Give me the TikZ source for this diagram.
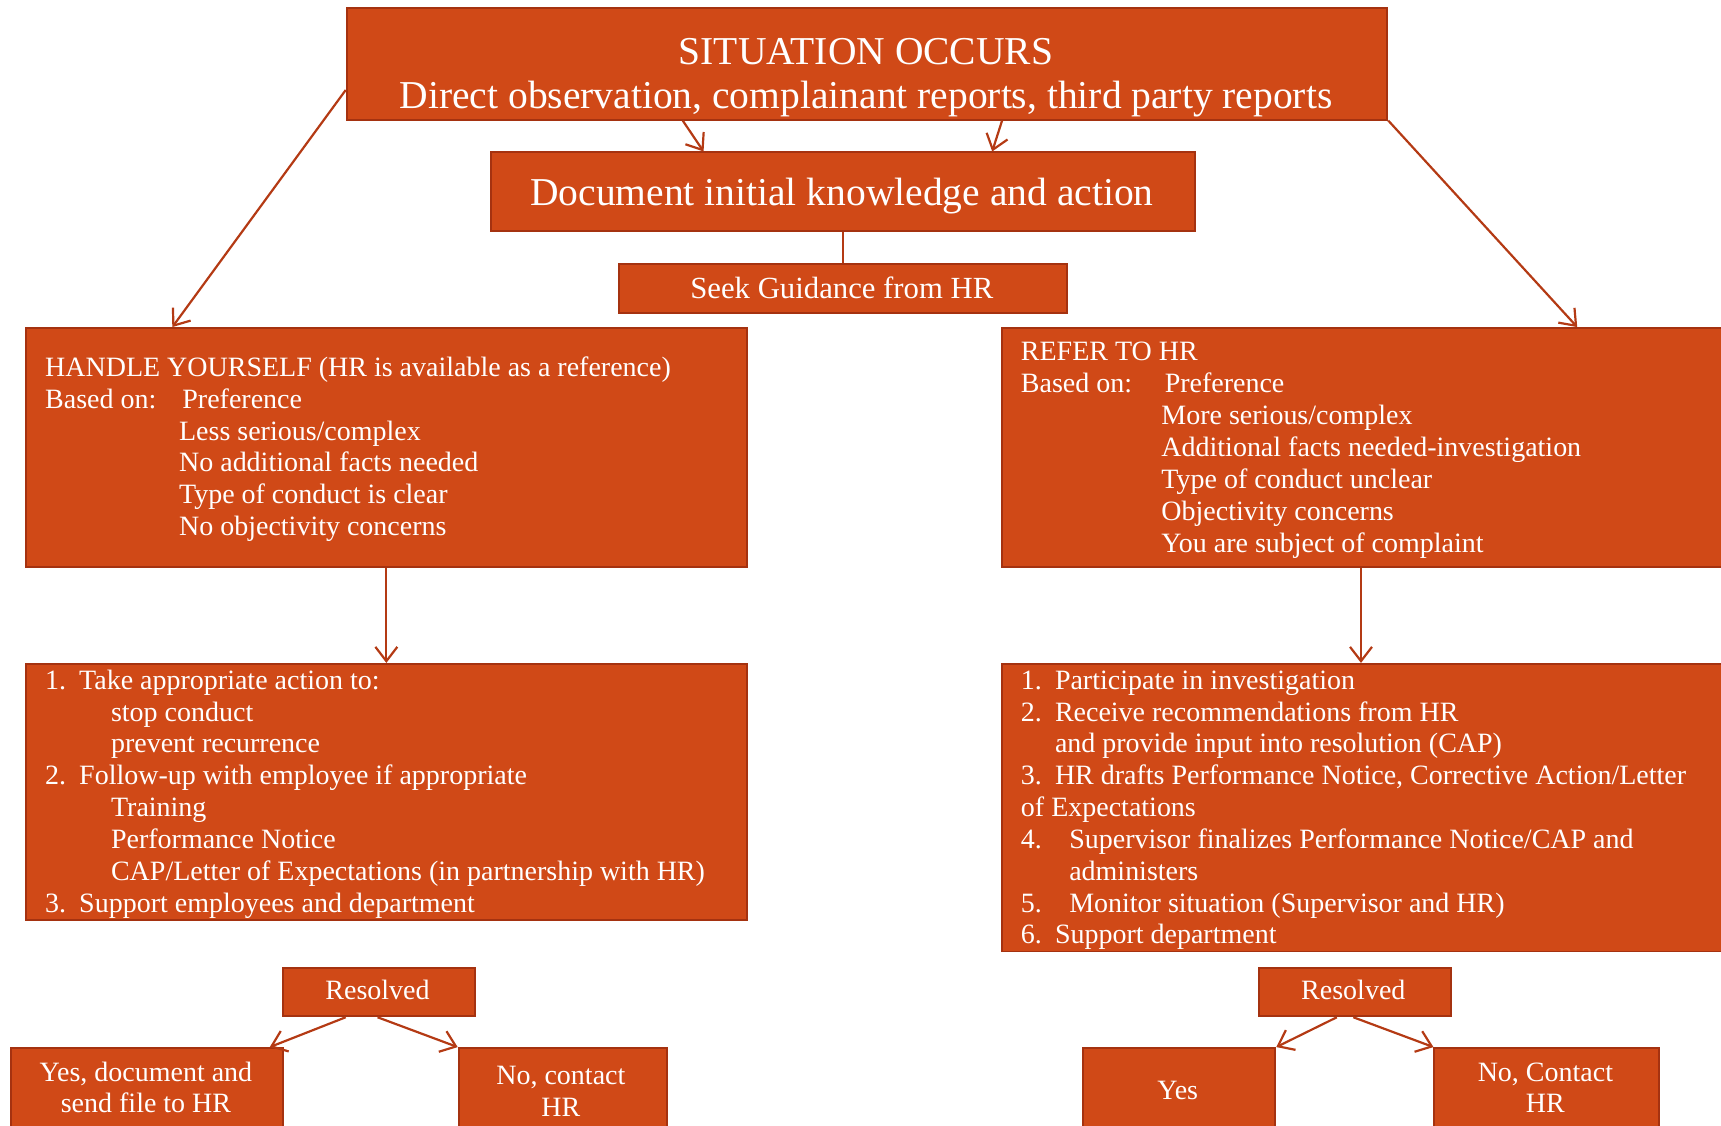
\documentclass[tikz,border=0pt]{standalone}
\usepackage{fontspec}
\setmainfont{Liberation Serif}
\usetikzlibrary{arrows.meta,calc}
\definecolor{boxfill}{RGB}{208,73,23}
\definecolor{boxline}{RGB}{165,50,16}
\definecolor{lineclr}{RGB}{180,58,20}
\tikzset{
  box/.style={draw=boxline, fill=boxfill, line width=1.8pt, rectangle, inner sep=0pt, anchor=north west},
  tx/.style={text=white, anchor=base west, inner sep=0pt, font=\fontsize{25.5}{29}\selectfont},
  ctx/.style={text=white, anchor=base, inner sep=0pt, font=\fontsize{25.5}{29}\selectfont},
  bigtx/.style={text=white, anchor=base, inner sep=0pt, font=\fontsize{36}{39}\selectfont},
  conn/.style={draw=lineclr, line width=2pt, -{Straight Barb[length=13pt,width=20pt,line width=2pt]}},
  plain/.style={draw=lineclr, line width=2pt}
}
\begin{document}
\begin{tikzpicture}[x=1pt,y=-1pt]
\useasboundingbox (0,0) rectangle (1568,1025);
\clip (0,0) rectangle (1568,1025);
% boxes
\node[box, minimum width=948pt, minimum height=102pt] (top) at (315,6) {};
\node[box, minimum width=642pt, minimum height=72pt] (doc) at (446,138) {};
\node[box, minimum width=408pt, minimum height=44pt] (seek) at (563,240) {};
\node[box, minimum width=657pt, minimum height=218pt] (handle) at (23,298) {};
\node[box, minimum width=700pt, minimum height=218pt] (refer) at (912,298) {};
\node[box, minimum width=657pt, minimum height=233pt] (actl) at (23,604) {};
\node[box, minimum width=700pt, minimum height=262pt] (actr) at (912,604) {};
\node[box, minimum width=175pt, minimum height=44pt] (resl) at (257,881) {};
\node[box, minimum width=248pt, minimum height=100pt] (yesl) at (9,954) {};
\node[box, minimum width=190pt, minimum height=100pt] (nol) at (417,954) {};
\node[box, minimum width=175pt, minimum height=44pt] (resr) at (1146,881) {};
\node[box, minimum width=175pt, minimum height=100pt] (yesr) at (986,954) {};
\node[box, minimum width=205pt, minimum height=100pt] (nor) at (1306,954) {};
% connectors
\draw[conn] ($(top.south west)+(307,0)$) -- ($(doc.north west)+(195,0)$);
\draw[conn] ($(top.south west)+(598,0)$) -- ($(doc.north west)+(458,0)$);
\draw[plain] (doc.south) -- (seek.north);
\draw[conn] ($(top.north west)+(0,76)$) -- ($(handle.north west)+(134,0)$);
\draw[conn] (top.south east) -- ($(refer.north west)+(525,0)$);
\draw[conn] ($(handle.south west)+(329,0)$) -- ($(actl.north west)+(329,0)$);
\draw[conn] ($(refer.south west)+(328,0)$) -- ($(actr.north west)+(328,0)$);
\draw[conn] ($(resl.south west)+(58,0)$) -- ($(yesl.north east)+(-13,0)$);
\draw[conn] ($(resl.south west)+(87,0)$) -- (nol.north west);
\draw[conn] ($(resr.south west)+(72,0)$) -- (yesr.north east);
\draw[conn] ($(resr.south west)+(87,0)$) -- (nor.north west);
% top texts
\node[bigtx] (t1) at (789,59) {SITUATION OCCURS};
\node[bigtx] (t2) at (789,99) {Direct observation, complainant reports, third party reports};
\node[bigtx] (t3) at (767,187) {Document initial knowledge and action};
\node[text=white, anchor=base, inner sep=0pt, font=\fontsize{28}{30}\selectfont] (t4) at (767,272) {Seek Guidance from HR};
% handle box
\node[tx] (h1) at (41,343) {HANDLE YOURSELF (HR is available as a reference)};
\node[tx] (h2) at (41,372) {Based on:};
\node[tx] (h3) at (166,372) {Preference};
\node[tx] (h4) at (163,401) {Less serious/complex};
\node[tx] (h5) at (163,430) {No additional facts needed};
\node[tx] (h6) at (163,459) {Type of conduct is clear};
\node[tx] (h7) at (163,488) {No objectivity concerns};
% refer box
\node[tx] (r1) at (930,328) {REFER TO HR};
\node[tx] (r2) at (930,358) {Based on:};
\node[tx] (r3) at (1061,358) {Preference};
\node[tx] (r4) at (1058,387) {More serious/complex};
\node[tx] (r5) at (1058,416) {Additional facts needed-investigation};
\node[tx] (r6) at (1058,445) {Type of conduct unclear};
\node[tx] (r7) at (1058,474) {Objectivity concerns};
\node[tx] (r8) at (1058,503) {You are subject of complaint};
% left actions
\node[tx] (a1n) at (41,628) {1.};
\node[tx] (a1) at (72,628) {Take appropriate action to:};
\node[tx] (a2) at (101,657) {stop conduct};
\node[tx] (a3) at (101,686) {prevent recurrence};
\node[tx] (a4n) at (41,715) {2.};
\node[tx] (a4) at (72,715) {Follow-up with employee if appropriate};
\node[tx] (a5) at (101,744) {Training};
\node[tx] (a6) at (101,773) {Performance Notice};
\node[tx] (a7) at (101,802) {CAP/Letter of Expectations (in partnership with HR)};
\node[tx] (a8n) at (41,831) {3.};
\node[tx] (a8) at (72,831) {Support employees and department};
% right actions
\node[tx] (b1n) at (930,628) {1.};
\node[tx] (b1) at (961,628) {Participate in investigation};
\node[tx] (b2n) at (930,657) {2.};
\node[tx] (b2) at (961,657) {Receive recommendations from HR};
\node[tx] (b3) at (961,686) {and provide input into resolution (CAP)};
\node[tx] (b4n) at (930,715) {3.};
\node[tx] (b4) at (961,715) {HR drafts Performance Notice, Corrective Action/Letter};
\node[tx] (b5) at (930,744) {of Expectations};
\node[tx] (b6n) at (930,773) {4.};
\node[tx] (b6) at (974,773) {Supervisor finalizes Performance Notice/CAP and};
\node[tx] (b7) at (974,802) {administers};
\node[tx] (b8n) at (930,831) {5.};
\node[tx] (b8) at (974,831) {Monitor situation (Supervisor and HR)};
\node[tx] (b9n) at (930,860) {6.};
\node[tx] (b9) at (961,860) {Support department};
% bottom
\node[ctx] (c1) at (344,911) {Resolved};
\node[ctx] (c2) at (133,985) {Yes, document and};
\node[ctx] (c3) at (133,1014) {send file to HR};
\node[ctx] (c4) at (511,988) {No, contact};
\node[ctx] (c5) at (511,1017) {HR};
\node[ctx] (d1) at (1233,911) {Resolved};
\node[ctx] (d2) at (1073,1002) {Yes};
\node[ctx] (d3) at (1408,985) {No, Contact};
\node[ctx] (d4) at (1408,1014) {HR};
\end{tikzpicture}
\end{document}
